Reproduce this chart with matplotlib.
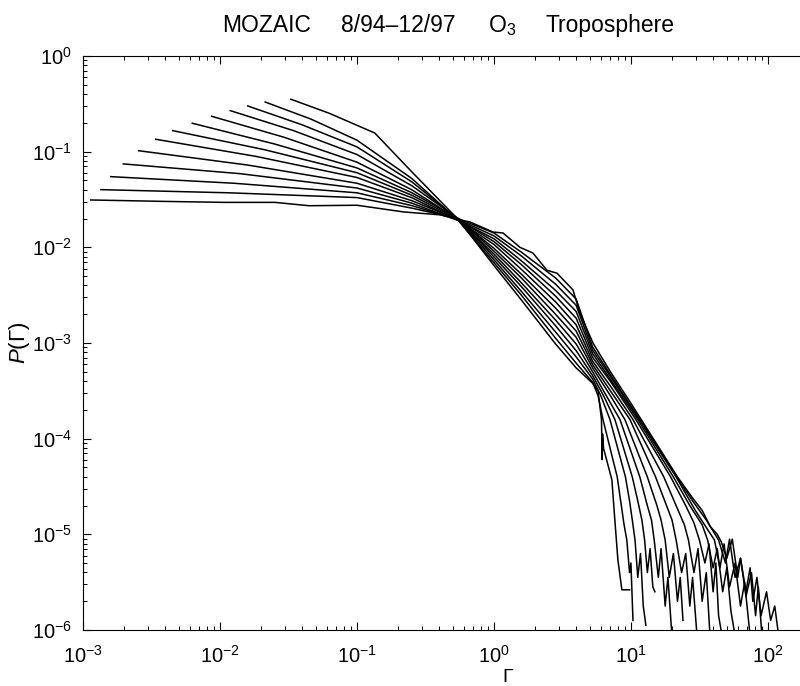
import numpy as np
import matplotlib
matplotlib.use("Agg")
from matplotlib import pyplot as plt
from matplotlib.ticker import LogLocator

plt.rcParams['font.family'] = ['Liberation Sans', 'DejaVu Sans']
plt.rcParams['mathtext.fontset'] = 'custom'
plt.rcParams['mathtext.rm'] = 'Liberation Sans'
plt.rcParams['mathtext.it'] = 'Liberation Sans:italic'

# log10(Gamma) and log10(P), finest resolution (0) to coarsest (12)
lg_g0 = [-2.944, -2.4, -1.972, -1.6, -1.35, -1.0, -0.66, -0.394, -0.26, -0.175, -0.007, 0.066, 0.19, 0.285,
         0.387, 0.46, 0.577, 0.628, 0.723, 0.85, 1.0, 1.15, 1.34, 1.45, 1.52, 1.58, 1.63, 1.66, 1.70, 1.74,
         1.78, 1.80, 1.84, 1.87, 1.89, 1.92, 1.95, 1.99, 2.02, 2.05, 2.073]
lg_p0 = [-1.505, -1.52, -1.53, -1.53, -1.565, -1.56, -1.63, -1.66, -1.71, -1.735, -1.84, -1.85, -2.0, -2.06,
         -2.24, -2.27, -2.445, -2.69, -3.0, -3.3, -3.63, -3.97, -4.4, -4.62, -4.75, -4.92, -5.0, -5.08, -5.25, -5.05,
         -5.45, -5.25, -5.6, -5.35, -5.7, -5.45, -5.85, -5.6, -5.9, -5.75, -6.0]

lg_g1 = [-2.869, -1.935, -1.0, -0.6, -0.26, 0.0, 0.2, 0.45, 0.6, 0.72, 0.85, 1.065, 1.335, 1.45, 1.55, 1.64,
         1.69, 1.72, 1.76, 1.80, 1.84, 1.88, 1.91, 1.93, 1.956]
lg_p1 = [-1.397, -1.43, -1.48, -1.59, -1.70, -1.85, -2.05, -2.32, -2.54, -3.04, -3.33, -3.8, -4.4, -4.65, -4.85, -5.06,
         -5.3, -5.05, -5.45, -5.25, -5.65, -5.4, -5.85, -5.55, -6.05]

lg_g2 = [-2.798, -1.899, -1.0, -0.6, -0.26, 0.0, 0.2, 0.45, 0.6, 0.72, 0.85, 1.06, 1.33, 1.47, 1.56, 1.61,
         1.65, 1.68, 1.72, 1.76, 1.80, 1.83, 1.869]
lg_p2 = [-1.261, -1.33, -1.43, -1.564, -1.71, -1.88, -2.09, -2.385, -2.605, -3.075, -3.35, -3.8, -4.4, -4.75, -4.95, -5.06,
         -5.35, -5.1, -5.55, -5.3, -5.75, -5.5, -6.05]

lg_g3 = [-2.706, -1.853, -1.0, -0.6, -0.26, 0.0, 0.2, 0.45, 0.6, 0.72, 0.85, 1.05, 1.31, 1.43, 1.52, 1.56,
         1.60, 1.63, 1.67, 1.70, 1.73, 1.759]
lg_p3 = [-1.128, -1.23, -1.38, -1.538, -1.72, -1.91, -2.14, -2.45, -2.67, -3.11, -3.38, -3.8, -4.4, -4.7, -4.9, -5.06,
         -5.35, -5.15, -5.6, -5.35, -5.8, -6.05]

lg_g4 = [-2.594, -1.797, -1.0, -0.6, -0.26, 0.0, 0.2, 0.45, 0.6, 0.72, 0.85, 1.036, 1.29, 1.40, 1.46, 1.50,
         1.54, 1.57, 1.60, 1.62, 1.64, 1.664]
lg_p4 = [-0.99, -1.14, -1.33, -1.512, -1.71, -1.94, -2.18, -2.51, -2.74, -3.15, -3.4, -3.8, -4.4, -4.7, -4.88, -5.06,
         -5.3, -5.1, -5.6, -5.3, -5.85, -6.05]

lg_g5 = [-2.47, -1.735, -1.0, -0.6, -0.26, 0.0, 0.2, 0.45, 0.6, 0.72, 0.85, 1.015, 1.24, 1.33, 1.39, 1.42,
         1.46, 1.49, 1.52, 1.55, 1.577]
lg_p5 = [-0.87, -1.05, -1.27, -1.481, -1.72, -1.97, -2.23, -2.57, -2.81, -3.19, -3.45, -3.8, -4.4, -4.7, -4.9, -5.06,
         -5.4, -5.15, -5.7, -5.4, -6.05]

lg_g6 = [-2.345, -1.673, -1.0, -0.6, -0.26, 0.0, 0.2, 0.45, 0.6, 0.72, 0.85, 0.993, 1.18, 1.26, 1.30, 1.33,
         1.37, 1.40, 1.43, 1.45, 1.482]
lg_p6 = [-0.78, -0.98, -1.22, -1.455, -1.71, -2.01, -2.28, -2.635, -2.875, -3.225, -3.5, -3.8, -4.4, -4.7, -4.85, -5.06,
         -5.4, -5.2, -5.75, -5.45, -6.05]

lg_g7 = [-2.202, -1.601, -1.0, -0.6, -0.26, 0.0, 0.2, 0.45, 0.6, 0.72, 0.85, 0.956, 1.12, 1.19, 1.22, 1.25,
         1.28, 1.31, 1.34, 1.36, 1.38]
lg_p7 = [-0.703, -0.92, -1.17, -1.429, -1.70, -2.04, -2.32, -2.70, -2.94, -3.26, -3.55, -3.8, -4.4, -4.7, -4.85, -5.06,
         -5.45, -5.2, -5.7, -5.45, -5.9]

lg_g8 = [-2.061, -1.531, -1.0, -0.6, -0.26, 0.0, 0.2, 0.45, 0.6, 0.72, 0.82, 0.92, 1.065, 1.12, 1.15, 1.17,
         1.20, 1.22, 1.25, 1.27, 1.299]
lg_p8 = [-0.63, -0.85, -1.11, -1.398, -1.71, -2.07, -2.37, -2.76, -3.01, -3.30, -3.55, -3.8, -4.4, -4.7, -4.85, -5.06,
         -5.45, -5.15, -5.75, -5.45, -6.05]

lg_g9 = [-1.925, -1.463, -1.0, -0.6, -0.26, 0.0, 0.2, 0.45, 0.6, 0.72, 0.80, 0.883, 1.01, 1.05, 1.08, 1.10,
         1.12, 1.14, 1.16, 1.175]
lg_p9 = [-0.571, -0.78, -1.03, -1.356, -1.70, -2.10, -2.41, -2.82, -3.08, -3.34, -3.55, -3.8, -4.4, -4.65, -4.85, -5.06,
         -5.4, -5.15, -5.55, -5.6]

lg_g10 = [-1.798, -1.399, -1.0, -0.6, -0.26, 0.0, 0.2, 0.45, 0.6, 0.72, 0.78, 0.847, 0.96, 0.99, 1.01, 1.03,
          1.05, 1.07, 1.09, 1.109]
lg_p10 = [-0.522, -0.72, -0.95, -1.315, -1.71, -2.13, -2.46, -2.885, -3.145, -3.375, -3.55, -3.8, -4.4, -4.65, -4.85,
          -5.06, -5.45, -5.2, -5.75, -5.95]

lg_g11 = [-1.670, -1.335, -1.0, -0.6, -0.26, 0.0, 0.2, 0.45, 0.6, 0.72, 0.76, 0.796, 0.90, 0.93, 0.95, 0.97,
          0.99, 1.0, 1.015]
lg_p11 = [-0.481, -0.66, -0.88, -1.28, -1.72, -2.16, -2.50, -2.95, -3.21, -3.41, -3.55, -3.8, -4.4, -4.7, -4.9, -5.06,
          -5.4, -5.3, -5.9]

lg_g12 = [-1.482, -1.2, -0.87, -0.6, -0.26, 0.0, 0.2, 0.45, 0.6, 0.72, 0.76, 0.785, 0.79, 0.793, 0.80, 0.861,
          0.88, 0.905, 0.934, 0.99]
lg_p12 = [-0.452, -0.6, -0.805, -1.21, -1.71, -2.19, -2.55, -3.01, -3.26, -3.42, -3.5, -3.8, -4.22, -3.95, -4.1, -4.43,
          -4.8, -5.27, -5.58, -5.58]

curves = [(lg_g0, lg_p0), (lg_g1, lg_p1), (lg_g2, lg_p2), (lg_g3, lg_p3), (lg_g4, lg_p4),
          (lg_g5, lg_p5), (lg_g6, lg_p6), (lg_g7, lg_p7), (lg_g8, lg_p8), (lg_g9, lg_p9),
          (lg_g10, lg_p10), (lg_g11, lg_p11), (lg_g12, lg_p12)]

fig = plt.figure(figsize=(8, 6.86), dpi=100)
# right edge of the frame falls just outside the picture, as in the scan
ax = fig.add_axes([83/800, (686-630)/686, 726/800, 574/686])

for lg, lp in curves:
    ax.plot(10**np.array(lg), 10**np.array(lp), color='black', lw=1.1)

ax.set_xscale('log')
ax.set_yscale('log')
ax.set_xlim(1e-3, 10**2.3)
ax.set_ylim(1e-6, 1)

ax.xaxis.set_major_locator(LogLocator(base=10, numticks=10))
ax.yaxis.set_major_locator(LogLocator(base=10, numticks=10))
ax.tick_params(which='both', direction='in', top=True, right=True, labelsize=14.5)
ax.tick_params(which='major', length=6, width=0.8)
ax.tick_params(which='minor', length=3, width=0.7)
ax.tick_params(axis='x', pad=11)
ax.tick_params(axis='y', pad=8)

ax.set_ylabel(r'$P$(Γ)', fontsize=16, labelpad=0)
ax.set_xlabel('Γ', fontsize=14)
# Γ sits under the 10^0 tick, low at the bottom edge
ax.xaxis.set_label_coords((508 - 83) / 726, -(669 - 630) / 574)

# title pieces, spaced as in the original
ty = 1 - 32/686
fig.text(222/800, ty, 'MOZAIC', fontsize=16.5, ha='left', va='baseline')
fig.text(341/800, ty, '8/94–12/97', fontsize=16.5, ha='left', va='baseline')
fig.text(488/800, ty, r'O$_3$', fontsize=16.5, ha='left', va='baseline')
fig.text(546/800, ty, 'Troposphere', fontsize=16.5, ha='left', va='baseline')

fig.savefig('out.png', dpi=100)
